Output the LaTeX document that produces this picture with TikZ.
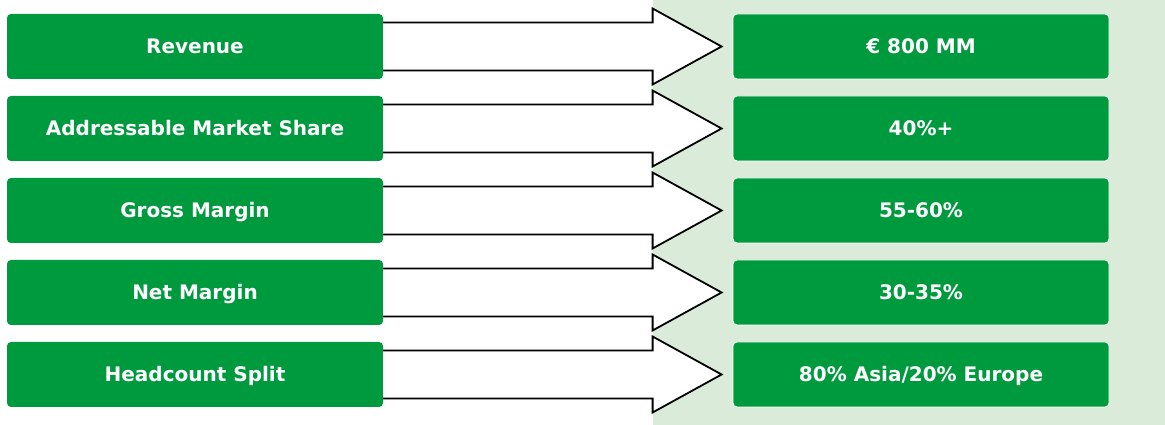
\documentclass[tikz,border=0pt]{standalone}
\usepackage{fontspec}
\setmainfont{DejaVu Sans}
\usetikzlibrary{calc, positioning}

\definecolor{kpigreen}{HTML}{009A3E}
\definecolor{panelgreen}{HTML}{DAEBD9}

\begin{document}
\begin{tikzpicture}[
  x=1pt, y=1pt,
  metric/.style={fill=kpigreen, rounded corners=4pt, minimum width=376pt,
    minimum height=65pt, text=white, font=\fontsize{20}{24}\selectfont\bfseries,
    inner sep=0pt, text height=14.5pt, text depth=0pt},
  target/.style={metric, draw=white, line width=0.8pt},
  bigarrow/.style={draw=black, fill=white, line width=1.8pt, line join=miter},
]
  \useasboundingbox (0,0) rectangle (1165,425);
  \fill[panelgreen] (653,0) rectangle (1165,425);

  \foreach \lab/\val [count=\idx] in {
      Revenue/{€ 800 MM},
      Addressable Market Share/40\%+,
      Gross Margin/55-60\%,
      Net Margin/30-35\%,
      Headcount Split/80\% Asia\slash 20\% Europe}
  {
    \node[metric] (L\idx) at (195, {378.5-82*(\idx-1)}) {\lab};
    \node[target] (R\idx) at (921, {378.5-82*(\idx-1)}) {\val};
  }

  % block arrows from each metric to its target
  \foreach \idx in {1,...,5}
    \draw[bigarrow] ($(L\idx.east)+(0,24)$) -- ($(R\idx.west)+(-80,24)$)
      -- ($(R\idx.west)+(-80,38)$) -- ($(R\idx.west)+(-11,0)$)
      -- ($(R\idx.west)+(-80,-38)$) -- ($(R\idx.west)+(-80,-24)$)
      -- ($(L\idx.east)+(0,-24)$);
\end{tikzpicture}
\end{document}
